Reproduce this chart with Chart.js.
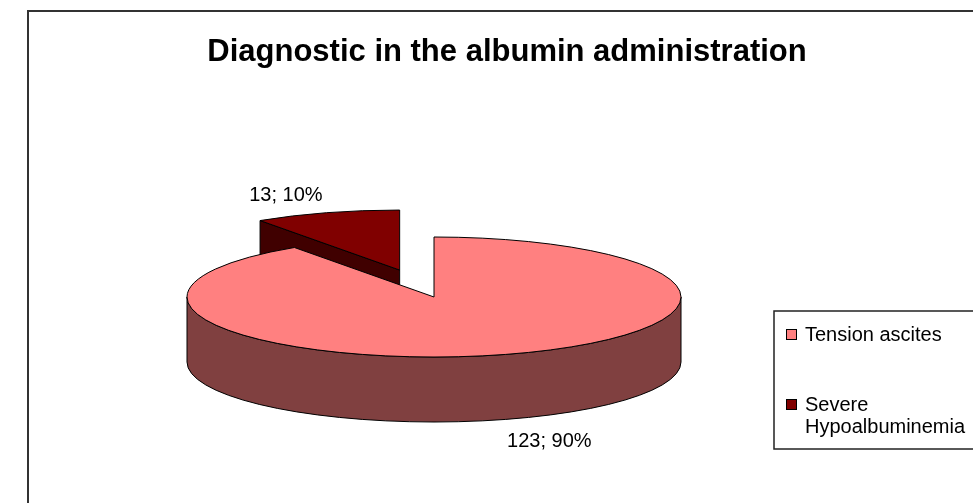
<!DOCTYPE html>
<html><head><meta charset="utf-8">
<script src="https://cdn.jsdelivr.net/npm/chart.js@4/dist/chart.umd.min.js"></script>
<style>html,body{margin:0;padding:0;background:#fff;overflow:hidden}</style>
</head><body>
<canvas id="c" width="973" height="503"></canvas>
<script>
// ---- data ----
const chartTitle = "Diagnostic in the albumin administration";
const categories = ["Tension ascites", "Severe Hypoalbuminemia"];
const values = [123, 13];

// ---- styles ----
const topColors = ["#FF8080", "#800000"];
const sideColors = ["#804040", "#400000"];
const explode = [0, 0.47];
const G = {cx: 434, cy: 297, rx: 247, ry: 60, depth: 65};
const FONT = "'Liberation Sans', Arial, sans-serif";

function geom(chart) {
  const meta = chart.getDatasetMeta(0);
  return meta.data.map((arc, i) => {
    const s = arc.startAngle, e = arc.endAngle, mid = (s + e) / 2;
    const ex = explode[i] || 0;
    return {arc, i, s, e, mid,
      cx: G.cx + ex * G.rx * Math.cos(mid),
      cy: G.cy + ex * G.ry * Math.sin(mid)};
  });
}
function rim(g, t, d) { return [g.cx + G.rx * Math.cos(t), g.cy + G.ry * Math.sin(t) + (d || 0)]; }

const pie3d = {
  id: 'pie3d',
  beforeDatasetsDraw(chart) {
    const ctx = chart.ctx;
    const gs = geom(chart);
    const d = G.depth;
    ctx.save();
    ctx.lineWidth = 1;
    ctx.strokeStyle = '#000';
    ctx.lineJoin = 'round';
    // cut faces
    gs.forEach(g => {
      const faces = [];
      if (Math.cos(g.s) < -1e-6) faces.push(g.s);
      if (Math.cos(g.e) > 1e-6) faces.push(g.e);
      faces.forEach(t => {
        const p = rim(g, t);
        ctx.beginPath();
        ctx.moveTo(g.cx, g.cy);
        ctx.lineTo(p[0], p[1]);
        ctx.lineTo(p[0], p[1] + d);
        ctx.lineTo(g.cx, g.cy + d);
        ctx.closePath();
        ctx.fillStyle = sideColors[g.i];
        ctx.fill(); ctx.stroke();
      });
    });
    // outer walls (front half)
    gs.forEach(g => {
      [-2 * Math.PI, 0, 2 * Math.PI].forEach(k => {
        const lo = Math.max(g.s, k), hi = Math.min(g.e, k + Math.PI);
        if (hi - lo > 1e-6) {
          const p1 = rim(g, lo), p2 = rim(g, hi, d);
          ctx.beginPath();
          ctx.moveTo(p1[0], p1[1]);
          ctx.ellipse(g.cx, g.cy, G.rx, G.ry, 0, lo, hi, false);
          ctx.lineTo(p2[0], p2[1]);
          ctx.ellipse(g.cx, g.cy + d, G.rx, G.ry, 0, hi, lo, true);
          ctx.closePath();
          ctx.fillStyle = sideColors[g.i];
          ctx.fill(); ctx.stroke();
        }
      });
    });
    // top faces drawn by Chart.js arc elements, squashed into an ellipse
    gs.forEach(g => {
      const a = g.arc;
      const sx = G.rx / a.outerRadius, sy = G.ry / a.outerRadius;
      ctx.save();
      ctx.translate(g.cx, g.cy);
      ctx.scale(sx, sy);
      ctx.translate(-a.x, -a.y);
      a.draw(ctx);
      ctx.restore();
    });
    // top outlines
    gs.forEach(g => {
      ctx.beginPath();
      ctx.moveTo(g.cx, g.cy);
      ctx.ellipse(g.cx, g.cy, G.rx, G.ry, 0, g.s, g.e, false);
      ctx.closePath();
      ctx.stroke();
    });
    ctx.restore();
    return false;
  },
  afterDraw(chart) {
    const ctx = chart.ctx;
    const gs = geom(chart);
    ctx.save();
    // frame
    ctx.strokeStyle = '#333';
    ctx.lineWidth = 2;
    ctx.beginPath();
    ctx.moveTo(28, 510); ctx.lineTo(28, 11); ctx.lineTo(980, 11);
    ctx.stroke();
    // title
    ctx.fillStyle = '#000';
    ctx.font = "bold 31px " + FONT;
    ctx.textAlign = 'center';
    ctx.textBaseline = 'alphabetic';
    ctx.fillText(chartTitle, 507, 61);
    // data labels
    const total = values.reduce((a, b) => a + b, 0);
    ctx.font = "20px " + FONT;
    gs.forEach(g => {
      const v = values[g.i];
      const txt = v + "; " + Math.round(v / total * 100) + "%";
      const sn = Math.sin(g.mid), cs = Math.cos(g.mid);
      const p = rim(g, g.mid, sn > 0 ? G.depth : 0);
      ctx.textAlign = cs < 0 ? 'right' : 'left';
      const x = p[0] + (cs < 0 ? -4 : 0);
      const y = sn < 0 ? p[1] - 12 : p[1] + 28;
      ctx.fillText(txt, x, y);
    });
    // legend
    ctx.strokeStyle = '#222';
    ctx.lineWidth = 1.5;
    ctx.strokeRect(774, 311, 230, 138);
    ctx.textAlign = 'left';
    const maxW = 973 - 805 - 2;
    const tops = [341, 411];
    categories.forEach((lab, i) => {
      const words = lab.split(' ');
      const lines = [];
      let cur = '';
      words.forEach(w => {
        const t = cur ? cur + ' ' + w : w;
        if (ctx.measureText(t).width > maxW && cur) { lines.push(cur); cur = w; } else cur = t;
      });
      lines.push(cur);
      const by = tops[i];
      ctx.fillStyle = topColors[i];
      ctx.fillRect(786, by - 12, 11, 11);
      ctx.lineWidth = 1;
      ctx.strokeStyle = '#000';
      ctx.strokeRect(786.5, by - 11.5, 10, 10);
      ctx.fillStyle = '#000';
      lines.forEach((ln, j) => ctx.fillText(ln, 805, by + j * 22));
    });
    ctx.restore();
  }
};

new Chart(document.getElementById('c'), {
  type: 'pie',
  data: {
    labels: categories,
    datasets: [{
      data: values,
      backgroundColor: topColors,
      borderWidth: 0,
      clip: false
    }]
  },
  options: {
    responsive: false,
    animation: false,
    events: [],
    devicePixelRatio: 1,
    layout: {padding: 0},
    plugins: {legend: {display: false}, tooltip: {enabled: false}, title: {display: false}}
  },
  plugins: [pie3d]
});
</script>
</body></html>
